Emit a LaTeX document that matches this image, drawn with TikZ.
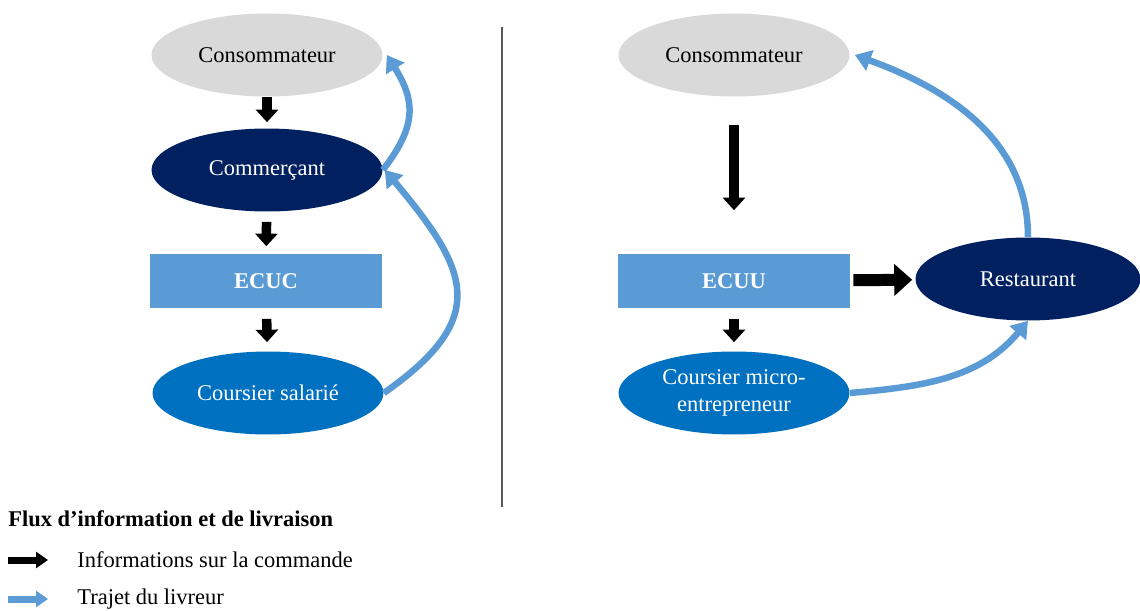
\documentclass[tikz,border=0pt]{standalone}
\usepackage{fontspec}
\setmainfont{Liberation Serif}
\usetikzlibrary{shapes.geometric,arrows.meta}
\definecolor{gris}{HTML}{D9D9D9}
\definecolor{marine}{HTML}{002060}
\definecolor{bleuclair}{HTML}{5B9BD5}
\definecolor{bleu}{HTML}{0070C0}
\begin{document}
\begin{tikzpicture}[x=0.02cm,y=0.02cm,
  every node/.style={font=\fontsize{12.8}{15}\selectfont},
  acteur/.style={ellipse,minimum width=4.62cm,minimum height=1.66cm,inner sep=0pt,text=white},
  plateforme/.style={rectangle,fill=bleuclair,minimum width=4.64cm,minimum height=1.1cm,text=white,font=\fontsize{12.8}{15}\selectfont\bfseries},
  info/.style={line width=0.19cm,-{Triangle[width=0.44cm,length=0.25cm]}},
  trajet/.style={bleuclair,line width=0.13cm,-{Triangle[width=0.42cm,length=0.32cm]}},
  legende/.style={line width=0.14cm,-{Triangle[width=0.32cm,length=0.24cm]}}]
\useasboundingbox (0,0) rectangle (1140,610);

% ECUC
\node[acteur,fill=gris,text=black] (conL) at (267,555) {Consommateur};
\node[acteur,fill=marine] (comL) at (267,440) {Commerçant};
\node[plateforme] (ecuc) at (266,329) {ECUC};
\node[acteur,fill=bleu] (csal) at (268,217) {Coursier salarié};

\draw[info,shorten >=0.12cm] (conL) -- (comL);
\draw[info,shorten <=0.2cm,shorten >=0.14cm] (comL) -- (ecuc);
\draw[info,shorten <=0.2cm,shorten >=0.18cm] (ecuc) -- (csal);

\draw[trajet] (comL.east) .. controls +(35,45) and +(28,-45) .. ([xshift=0.08cm]conL.east);
\draw[trajet] (csal.east) to[out=35,in=-50,looseness=1.5] ([xshift=0.04cm]comL.east);

\draw[black!65,line width=0.6pt] (502,583) -- (502,103);

% ECUU
\node[acteur,fill=gris,text=black] (conR) at (734,555) {Consommateur};
\node[plateforme] (ecuu) at (734,329) {ECUU};
\node[acteur,fill=marine,minimum width=4.5cm] (rest) at (1028,331) {Restaurant};
\node[acteur,fill=bleu,align=center] (cmic) at (734,217) {Coursier micro-\\entrepreneur};

\draw[info,shorten <=0.56cm,shorten >=0.86cm] (conR) -- (ecuu);
\draw[info,shorten <=0.2cm,shorten >=0.18cm] (ecuu) -- (cmic);
\draw[info,line width=0.24cm,-{Triangle[width=0.62cm,length=0.36cm]},shorten <=0.06cm,shorten >=0.06cm] (ecuu) -- (rest);

\draw[trajet] (cmic.east) to[out=5,in=-130] (rest.south);
\draw[trajet] (rest.north) to[out=90,in=-20] ([xshift=0.1cm]conR.east);

% legende
\node[anchor=west,inner sep=0pt,font=\fontsize{12.8}{15}\selectfont\bfseries] (titre) at (8,91) {Flux d’information et de livraison};
\coordinate (i0) at (8,50);
\coordinate (i1) at (48,50);
\draw[legende] (i0) -- (i1);
\node[anchor=west,inner sep=0pt] (infos) at (77,50) {Informations sur la commande};
\coordinate (t0) at (8,11);
\coordinate (t1) at (48,11);
\draw[legende,bleuclair] (t0) -- (t1);
\node[anchor=west,inner sep=0pt] (traj) at (77,11) {Trajet du livreur};
\end{tikzpicture}
\end{document}
